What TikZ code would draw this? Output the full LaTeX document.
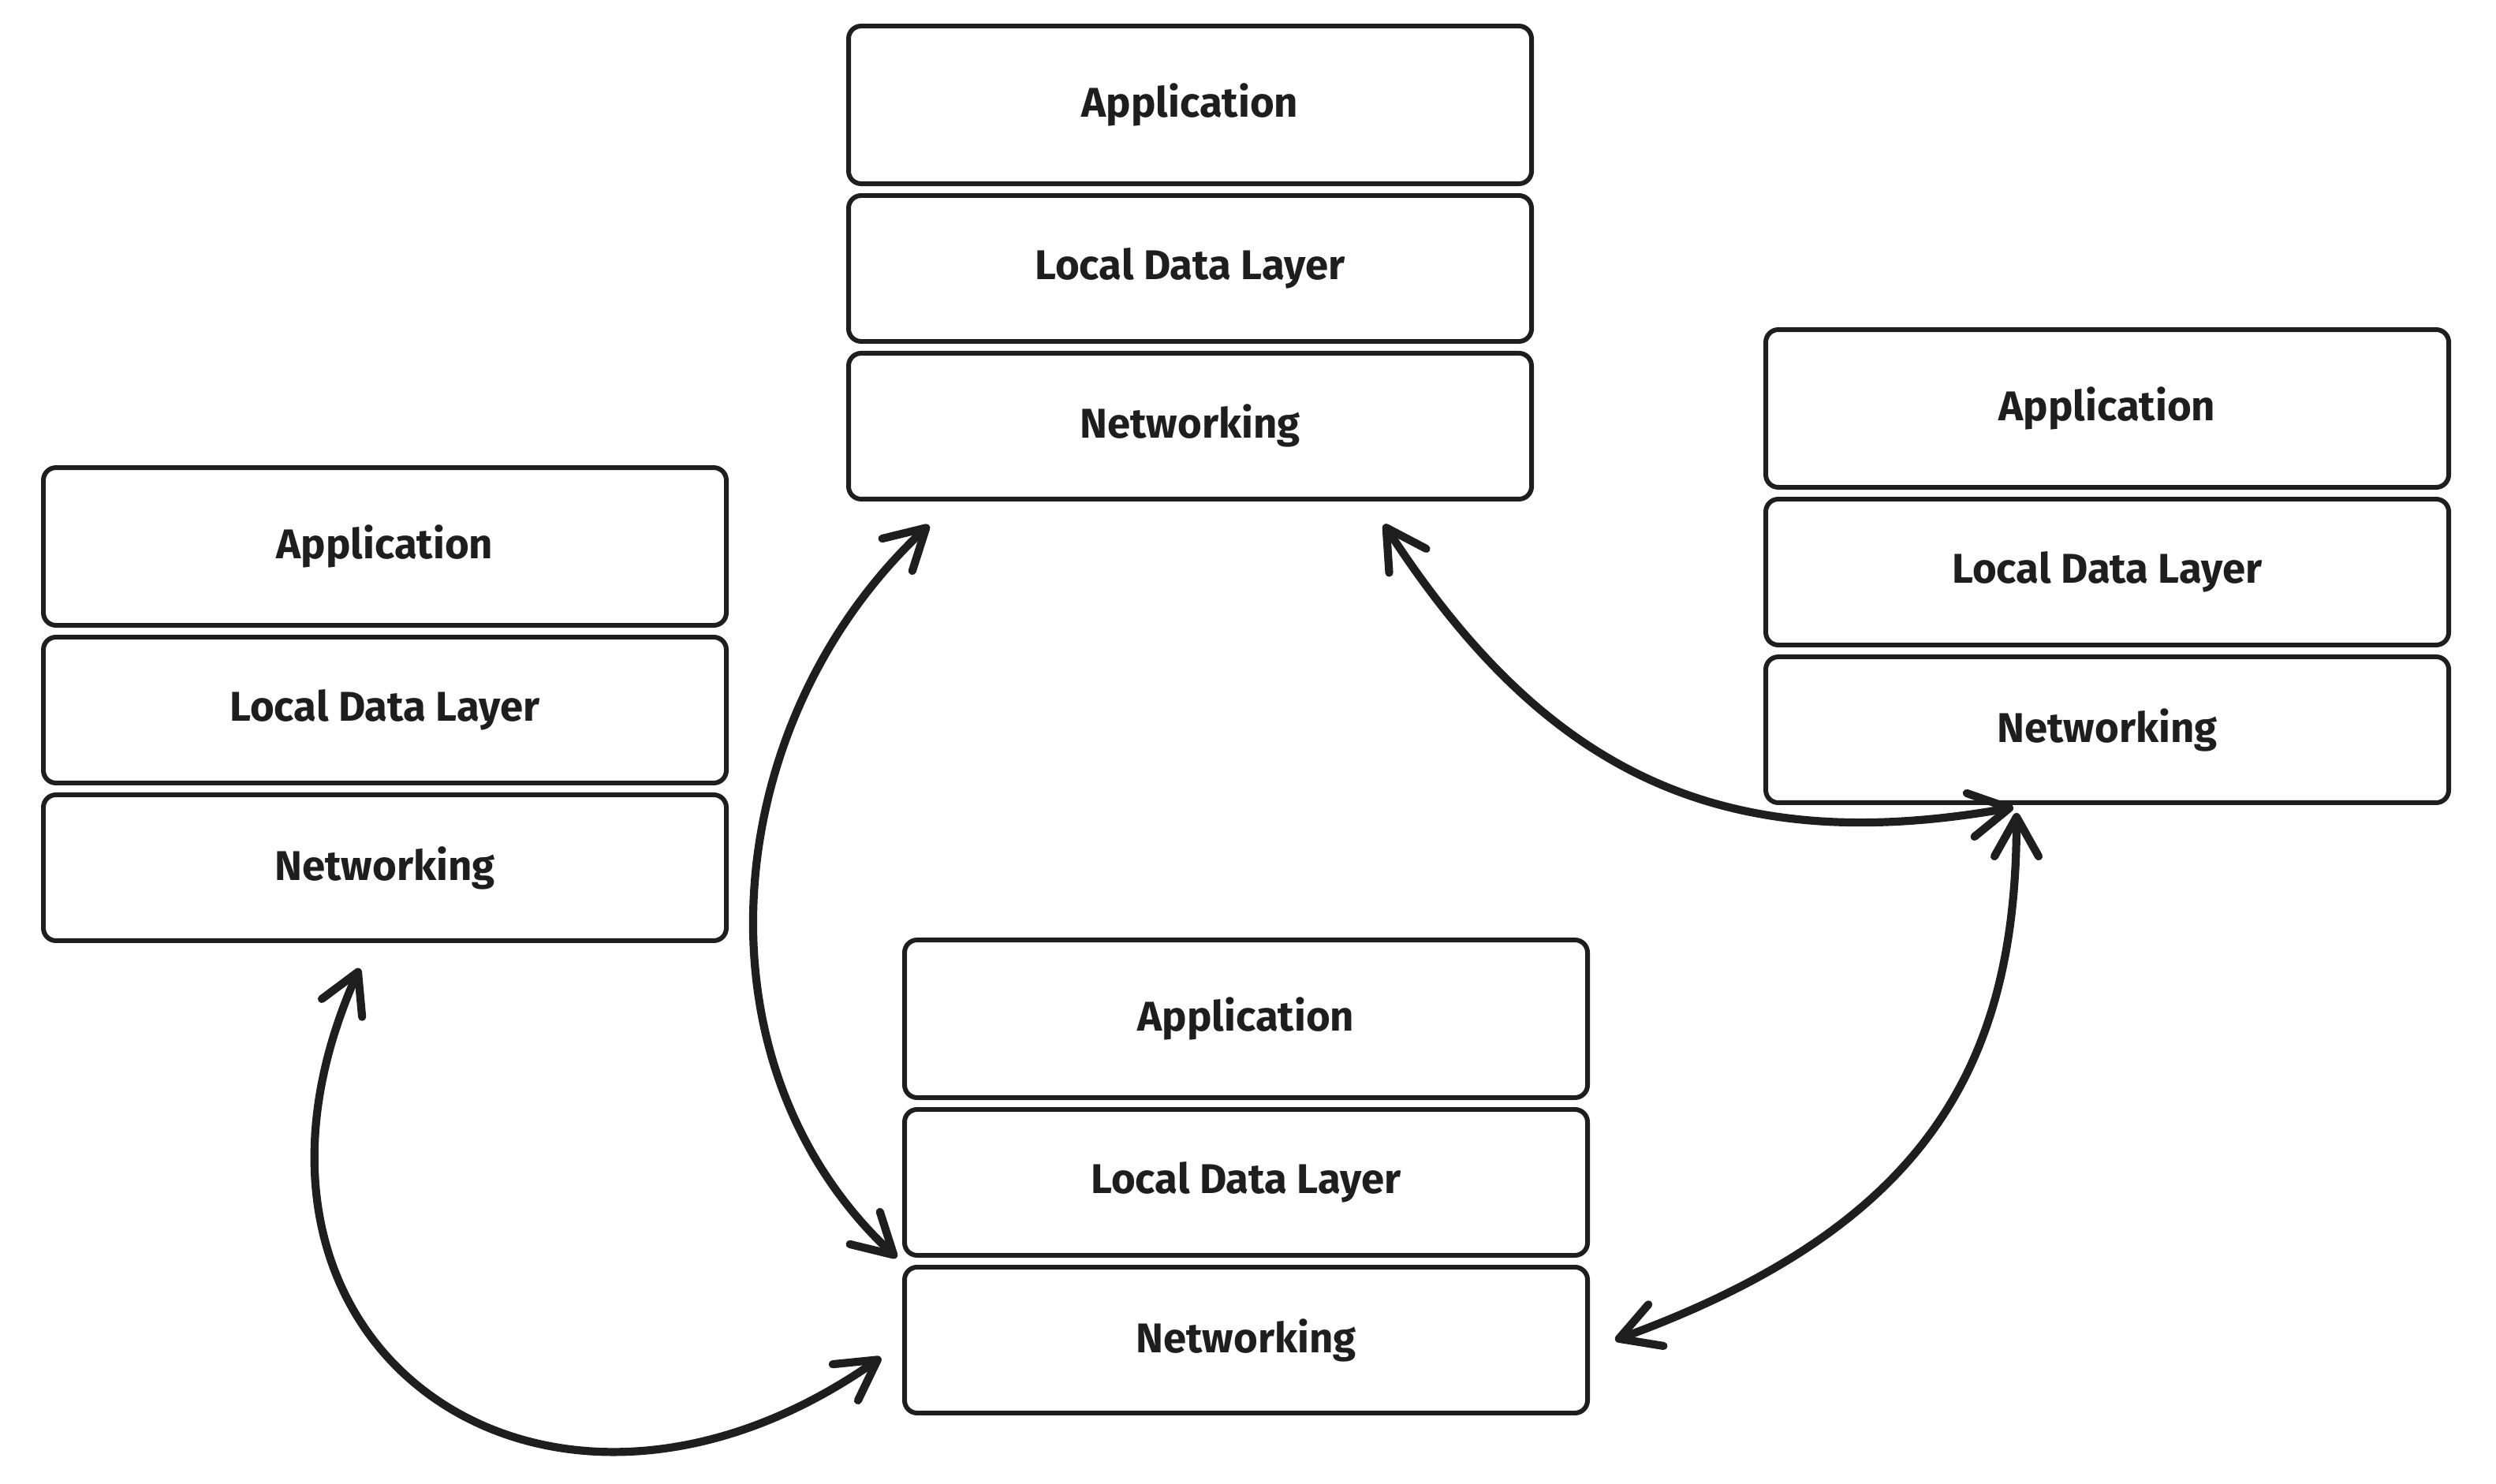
\documentclass[tikz,border=0pt]{standalone}
\usepackage{fontspec}
\setmainfont{Fira Sans}
\usetikzlibrary{positioning,arrows.meta}

\definecolor{ink}{HTML}{1E1E1E}

\tikzset{
  layerbox/.style={draw=ink, line width=1.7pt, rounded corners=0.16cm,
    minimum width=8.66cm, minimum height=1.85cm, inner sep=0pt,
    font=\fontsize{15}{18}\selectfont\bfseries, text=ink},
  sync/.style={draw=ink, line width=2.9pt, line cap=round,
    {Straight Barb[length=0.5cm, width=0.56cm, round]}-{Straight Barb[length=0.5cm, width=0.56cm, round]}}
}

\begin{document}
\begin{tikzpicture}
  \useasboundingbox (0,0) rectangle (31.65,-18.81);

  % Four layer stacks
  \foreach \s/\x/\y in {t/15.09/-1.33, r/26.72/-5.18, l/4.88/-6.93, b/15.80/-12.92} {
    \node[layerbox, minimum height=2cm] (\s app) at (\x,\y) {Application};
    \node[layerbox, below=0.09cm of \s app] (\s ldl) {Local Data Layer};
    \node[layerbox, below=0.09cm of \s ldl] (\s net) {Networking};
  }

  % Curved links between the stacks
  \draw[sync] ([shift={(1.05,-0.3)}]tnet.south west)
    to[out=223, in=137] ([xshift=-0.07cm]bldl.south west);
  \draw[sync] ([shift={(-1.9,-0.29)}]tnet.south east)
    to[out=-57, in=190, looseness=1.1] ([shift={(-1.19,-0.03)}]rnet.south);
  \draw[sync] ([shift={(-1.15,-0.1)}]rnet.south)
    to[out=-90, in=20, out distance=3.2cm, in distance=4.2cm] ([xshift=0.32cm]bnet.east);
  \draw[sync] ([shift={(-0.32,-0.32)}]lnet.south)
    to[out=246, in=215, looseness=1.62] ([shift={(-0.27,-0.22)}]bnet.west);
\end{tikzpicture}
\end{document}
